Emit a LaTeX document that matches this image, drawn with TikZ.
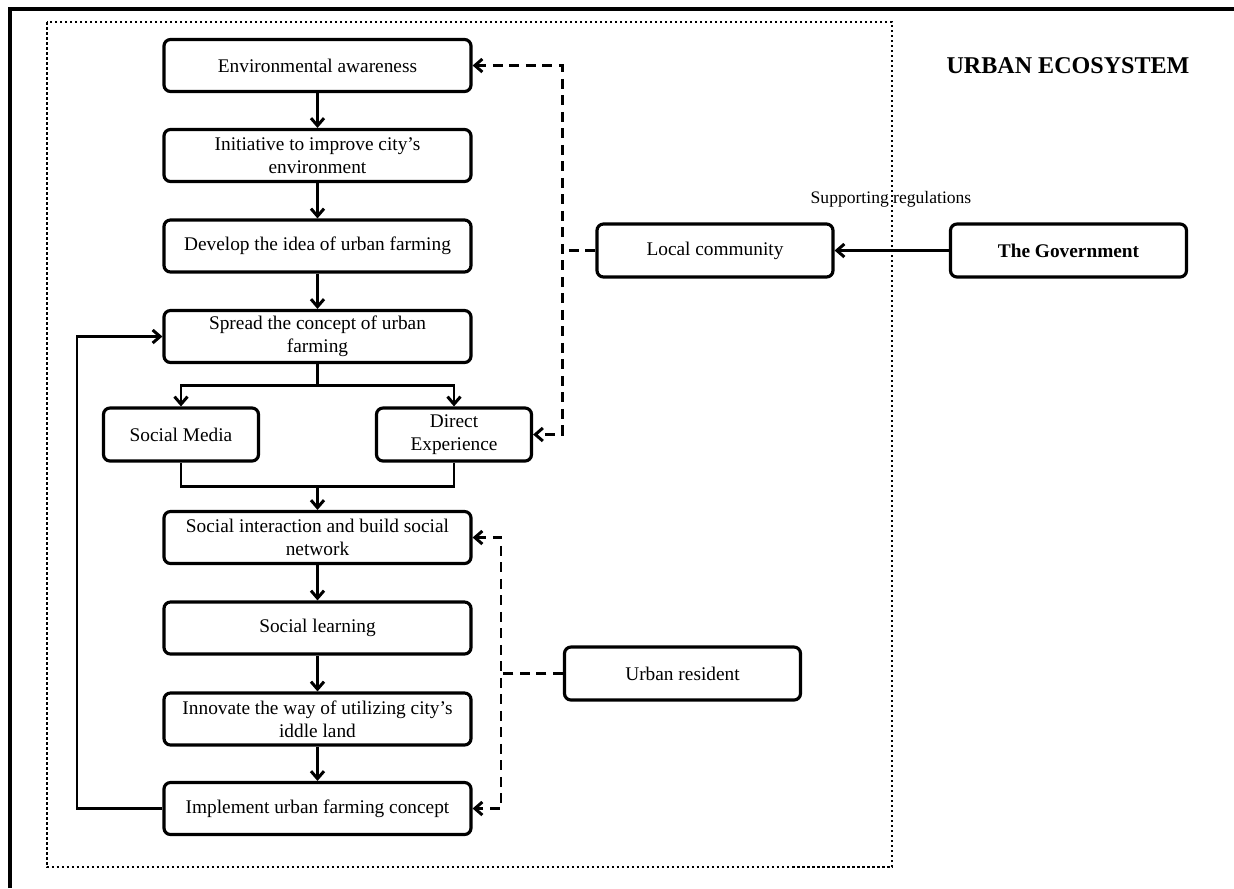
\documentclass[tikz,border=0pt]{standalone}
\usepackage{fontspec}
\setmainfont{Liberation Serif}
\usetikzlibrary{arrows.meta, positioning, calc}

\begin{document}
\begin{tikzpicture}[x=0.2mm, y=-0.2mm,
    box/.style={draw, rounded corners=1.3mm, line width=1.8pt, align=center, inner sep=1pt,
      minimum width=61.4mm, minimum height=10.4mm, font=\fontsize{11}{13}\selectfont},
    sidebox/.style={box, minimum width=31mm, minimum height=10.6mm},
    outbox/.style={box, minimum width=47.2mm, minimum height=10.6mm},
    conn/.style={line width=1.7pt},
    arr/.style={conn, -{Straight Barb[length=1.5mm, width=2.6mm]}},
    dashln/.style={conn, dash pattern=on 2mm off 1.3mm},
    dasharr/.style={dashln, {Straight Barb[length=1.5mm, width=2.6mm]}-{Straight Barb[length=1.5mm, width=2.6mm]}}]
  \useasboundingbox (0,0) rectangle (1234,888);
  \draw[line width=2.4pt] (10,888) -- (10,9) -- (1234,9);
  \draw[line width=1.5pt, dash pattern=on 0.5mm off 0.5mm] (47,22) rectangle (892,867);
  \node[font=\fontsize{13.7}{16}\selectfont\bfseries] (title) at (1068,65.5) {URBAN ECOSYSTEM};

  \node[box] (env) at (317.5,65.5) {Environmental awareness};
  \node[box] (init) at (317.5,155.5) {Initiative to improve city’s\\environment};
  \node[box] (develop) at (317.5,246) {Develop the idea of urban farming};
  \node[box] (spread) at (317.5,336.5) {Spread the concept of urban\\farming};
  \node[sidebox] (media) at (181,434.5) {Social Media};
  \node[sidebox] (direct) at (454,434.5) {Direct\\Experience};
  \node[box] (interact) at (317.5,537.5) {Social interaction and build social\\network};
  \node[box] (learning) at (317.5,628) {Social learning};
  \node[box] (innovate) at (317.5,719) {Innovate the way of utilizing city’s\\iddle land};
  \node[box] (implement) at (317.5,808.5) {Implement urban farming concept};

  \node[outbox] (community) at (715,250.5) {Local community};
  \node[outbox, font=\fontsize{11}{13}\selectfont\bfseries] (gov) at (1068.5,250.5) {The Government};
  \node[outbox] (resident) at (682.5,673.5) {Urban resident};
  \node[font=\fontsize{10}{12}\selectfont] (support) at (891,199) {Supporting regulations};

  \coordinate (split) at (317.5,385);
  \coordinate (merge) at (317.5,486);
  \coordinate (loop) at (77,808.5);
  \coordinate (cmid) at (562,250.5);
  \coordinate (cbot) at (562,434.5);
  \coordinate (rmid) at (501,673.5);
  \coordinate (rbot) at (501,808.5);

  \draw[arr] (env) -- (init);
  \draw[arr] (init) -- (develop);
  \draw[arr] (develop) -- (spread);
  \draw[conn] (spread) -- (split);
  \draw[arr] (split) -| (media);
  \draw[arr] (split) -| (direct);
  \draw[conn] (media) |- (merge);
  \draw[conn] (direct) |- (merge);
  \draw[arr] (merge) -- (interact);
  \draw[arr] (interact) -- (learning);
  \draw[arr] (learning) -- (innovate);
  \draw[arr] (innovate) -- (implement);
  \draw[arr] (implement.west) -- (loop) |- (spread.west);

  \draw[dasharr] (env.east) -| (cbot) -- (direct.east);
  \draw[dashln] (community.west) -- (cmid);
  \draw[dasharr] (interact.east) -| (rbot) -- (implement.east);
  \draw[dashln] (resident.west) -- (rmid);
  \draw[arr] (gov) -- (community);
\end{tikzpicture}
\end{document}
